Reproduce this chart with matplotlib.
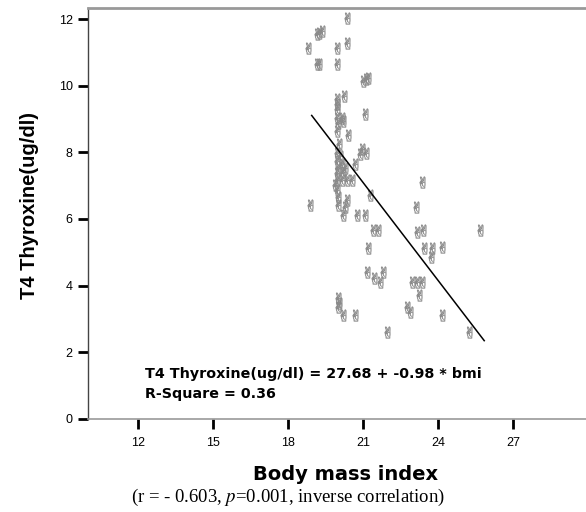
import matplotlib
matplotlib.use("Agg")
import matplotlib.pyplot as plt

bmi = [20.36, 19.16, 19.24, 19.36, 18.80, 19.96, 20.36, 19.16, 19.24, 19.96,
       21.00, 21.12, 21.20, 19.96, 19.96, 19.96, 20.24, 19.96, 20.16, 21.08,
       20.00, 20.20, 19.96, 20.40, 20.04, 20.96, 21.12, 20.88, 19.96, 20.08,
       19.96, 20.16, 20.00, 20.28, 20.68, 19.96, 20.20, 19.96, 20.16, 20.36,
       20.56, 19.88, 19.96, 20.00, 20.36, 20.00, 20.28, 18.88, 21.28, 20.20,
       20.76, 21.08, 21.40, 21.60, 21.20, 21.16, 21.80, 21.44, 21.68, 20.00,
       20.04, 20.00, 20.20, 20.68, 23.36, 23.12, 23.16, 23.40, 25.68, 23.44,
       23.76, 24.16, 23.72, 22.96, 23.16, 23.36, 23.24, 22.76, 22.88, 24.16,
       21.96, 25.24]
t4 = [12.04, 11.56, 11.59, 11.65, 11.14, 11.14, 11.29, 10.66, 10.66, 10.66,
      10.15, 10.21, 10.24, 9.61, 9.46, 9.31, 9.70, 9.04, 9.04, 9.16,
      8.89, 8.95, 8.65, 8.53, 8.26, 8.11, 7.99, 7.96, 7.99, 7.90,
      7.75, 7.66, 7.54, 7.54, 7.66, 7.37, 7.40, 7.16, 7.16, 7.16,
      7.16, 7.01, 6.86, 6.65, 6.56, 6.41, 6.35, 6.41, 6.71, 6.11,
      6.11, 6.11, 5.66, 5.66, 5.12, 4.40, 4.40, 4.22, 4.10, 3.62,
      3.47, 3.35, 3.11, 3.11, 7.10, 6.35, 5.60, 5.66, 5.66, 5.12,
      5.12, 5.15, 4.85, 4.10, 4.10, 4.10, 3.71, 3.35, 3.20, 3.11,
      2.60, 2.60]

intercept = 27.68
slope = -0.98
fit_x = [18.95, 25.85]
fit_y = [intercept + slope * x for x in fit_x]

xticks = [12, 15, 18, 21, 24, 27]
yticks = [0, 2, 4, 6, 8, 10, 12]

plt.rcParams['font.family'] = ['Liberation Sans', 'DejaVu Sans']

fig = plt.figure(figsize=(5.86, 5.12), dpi=100)
ax = fig.add_axes([0.150, 0.182, 0.85, 0.802])

ax.scatter(bmi, t4, marker='$\u270C$', s=70, c='#8a8a8a', linewidths=0.3, zorder=3)
ax.plot(fit_x, fit_y, color='black', lw=1.1, zorder=4)

ax.set_xlim(10, 29.92)
ax.set_ylim(0, 12.33)
ax.set_xticks(xticks)
ax.set_yticks(yticks)
ax.tick_params(axis='both', direction='out', length=7, width=2, color='black',
               labelsize=9, pad=4)
ax.tick_params(axis='x', pad=6)

ax.spines['right'].set_visible(False)
ax.spines['top'].set_color('#999999')
ax.spines['top'].set_linewidth(2)
ax.spines['bottom'].set_color('#999999')
ax.spines['bottom'].set_linewidth(1.2)
ax.spines['left'].set_color('#444444')
ax.spines['left'].set_linewidth(1)

ax.set_ylabel('T4 Thyroxine(ug/dl)', fontsize=14.5, fontweight='bold')
ax.yaxis.set_label_coords(-0.098, 0.52)
ax.set_xlabel('Body mass index', fontsize=14, fontweight='bold', family='DejaVu Sans')
ax.xaxis.set_label_coords(0.517, -0.112)

ax.text(12.3, 1.35, 'T4 Thyroxine(ug/dl) = 27.68 + -0.98 * bmi', fontsize=10.25,
        fontweight='bold', va='center', family='DejaVu Sans')
ax.text(12.3, 0.76, 'R-Square = 0.36', fontsize=10.25, fontweight='bold', va='center',
        family='DejaVu Sans')

fig.text(0.491, 0.029, '(r = - 0.603, $p$=0.001, inverse correlation)',
         fontsize=13.5, family='Liberation Serif', ha='center', va='center',
         math_fontfamily='stix')

fig.savefig('out.png', dpi=100)
